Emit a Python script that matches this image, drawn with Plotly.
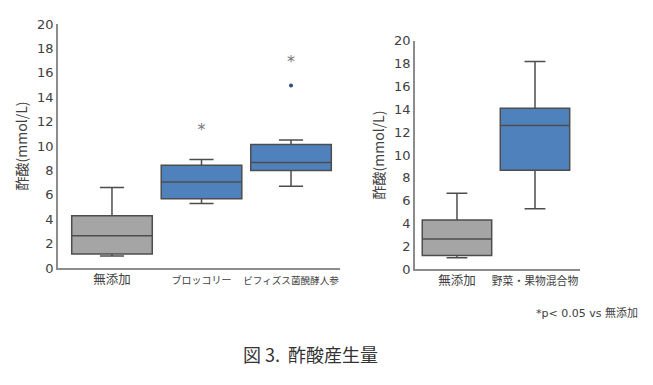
import plotly.graph_objects as go

# Left panel data
cats_l = ["無添加", "ブロッコリー", "ビフィズス菌醗酵人参"]
low_l = [0.98, 5.29, 6.71]
q1_l = [1.15, 5.68, 8.0]
med_l = [2.65, 7.04, 8.65]
q3_l = [4.28, 8.43, 10.12]
high_l = [6.6, 8.9, 10.5]
outlier_cat_l = ["ビフィズス菌醗酵人参"]
outlier_val_l = [14.95]
star_cats_l = ["ブロッコリー", "ビフィズス菌醗酵人参"]
star_vals_l = [11.2, 16.8]

# Right panel data
cats_r = ["無添加", "野菜・果物混合物"]
low_r = [1.02, 5.3]
q1_r = [1.2, 8.66]
med_r = [2.65, 12.57]
q3_r = [4.31, 14.08]
high_r = [6.65, 18.19]
star_cats_r = ["野菜・果物混合物"]
star_vals_r = [20.26]

y_ticks = list(range(0, 21, 2))

GRAY_FILL = "#a5a5a5"
BLUE_FILL = "#4f81bd"
LINE = "#4d4d4d"
FONT = "DejaVu Sans, Noto Sans CJK JP"
JFONT = "Noto Sans CJK JP, DejaVu Sans"

W, H = 645, 377  # page body has an 8px margin
OFF = 8


def px(x):
    return (x - OFF) / W


def py(y):
    return (H - (y - OFF)) / H


def span(t, size):
    return f'<span style="font-size:{size}px">{t}</span>'


fig = go.Figure()


def add_box(xcats, lo, a, m, b, hi, fill, xa, ya, width):
    fig.add_trace(go.Box(
        x=xcats, lowerfence=lo, q1=a, median=m, q3=b, upperfence=hi,
        fillcolor=fill, line=dict(color=LINE, width=1.5),
        whiskerwidth=0.3, width=width, boxpoints=False,
        xaxis=xa, yaxis=ya, showlegend=False, hoverinfo="skip"))


add_box(cats_l[:1], low_l[:1], q1_l[:1], med_l[:1], q3_l[:1], high_l[:1], GRAY_FILL, "x", "y", 0.9)
add_box(cats_l[1:], low_l[1:], q1_l[1:], med_l[1:], q3_l[1:], high_l[1:], BLUE_FILL, "x", "y", 0.9)
add_box(cats_r[:1], low_r[:1], q1_r[:1], med_r[:1], q3_r[:1], high_r[:1], GRAY_FILL, "x2", "y2", 0.89)
add_box(cats_r[1:], low_r[1:], q1_r[1:], med_r[1:], q3_r[1:], high_r[1:], BLUE_FILL, "x2", "y2", 0.89)

fig.add_trace(go.Scatter(x=outlier_cat_l, y=outlier_val_l, mode="markers",
                         marker=dict(size=4, color="#2f4f75"), xaxis="x", yaxis="y",
                         showlegend=False, hoverinfo="skip"))
fig.add_trace(go.Scatter(x=star_cats_l, y=star_vals_l, mode="text", text=["*"] * len(star_cats_l),
                         textfont=dict(size=16, color="#777777", family=FONT),
                         xaxis="x", yaxis="y", showlegend=False, hoverinfo="skip"))
fig.add_trace(go.Scatter(x=star_cats_r, y=star_vals_r, mode="text", text=["*"] * len(star_cats_r),
                         textfont=dict(size=16, color="#777777", family=FONT),
                         xaxis="x2", yaxis="y2", showlegend=False, hoverinfo="skip",
                         cliponaxis=False))

axis_common = dict(showgrid=False, zeroline=False, showline=True, linecolor="#8c8c8c",
                   linewidth=1.5, ticks="", automargin=False)
yax = dict(axis_common, range=[0, 20], tickvals=y_ticks,
           tickfont=dict(family=FONT, size=13, color="#404040"),
           title=dict(text="酢酸(mmol/L)", font=dict(family=JFONT, size=14, color="#404040"), standoff=6))
xax = dict(axis_common, type="category", tickangle=0,
           tickfont=dict(family=JFONT, size=11.5, color="#404040"))

ticktext_l = [span(cats_l[0], 12.5), span(cats_l[1], 10), span(cats_l[2], 9.6)]
ticktext_r = [span(cats_r[0], 12.5), span(cats_r[1], 10.8)]

fig.update_layout(
    width=W, height=H,
    margin=dict(l=0, r=0, t=0, b=0),
    paper_bgcolor="white", plot_bgcolor="white",
    xaxis=dict(xax, domain=[px(58), px(340)], categoryorder="array", categoryarray=cats_l,
               tickvals=cats_l, ticktext=ticktext_l,
               range=[-0.603, 2.547], anchor="y"),
    yaxis=dict(yax, domain=[py(268), py(24)], anchor="x"),
    xaxis2=dict(xax, domain=[px(415), px(580)], categoryorder="array", categoryarray=cats_r,
                tickvals=cats_r, ticktext=ticktext_r,
                range=[-0.538, 1.577], anchor="y2"),
    yaxis2=dict(yax, domain=[py(269.3), py(40.7)], anchor="x2"),
    annotations=[
        dict(text="*p< 0.05 vs 無添加", x=px(640), y=py(313), xref="paper", yref="paper",
             xanchor="right", yanchor="middle", showarrow=False,
             font=dict(family=FONT, size=11, color="#404040")),
        dict(text="図 3.  酢酸産生量", x=px(241), y=py(354), xref="paper", yref="paper",
             xanchor="left", yanchor="middle", showarrow=False,
             font=dict(family=JFONT, size=18, color="#333333")),
    ],
)

fig.write_html("out.html")
